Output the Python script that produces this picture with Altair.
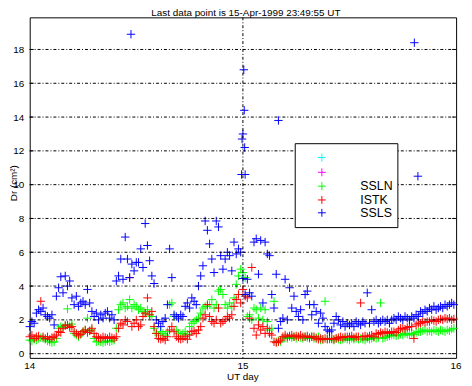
import altair as alt
import pandas as pd

# sampling: one value every 15 minutes from 14 April 00:00 UT (hours)
step_hours = 0.25

ssln_green = [
    0.8, 0.75, 0.85, 0.8, 0.9, 0.95, 0.9, 0.85, 0.75, 0.7, 0.65, 0.7,
    0.9, 1.5, 1.6, 1.55, 1.7, 2.65, 1.65, 1.75, 1.2, 1.1, 1.0, 1.15,
    1.3, 1.4, 2.1, 1.35, 1.4, 0.9, 0.7, 0.75, 0.7, 0.65, 0.7, 0.75,
    0.7, 0.75, 0.8, 1.5, 2.6, 2.9, 3.0, 2.7, 2.8, 3.2, 2.7, 2.9,
    2.8, 2.6, 2.7, 2.5, 2.4, 2.6, 2.3, 2.2, 1.5, 1.2, 1.1, 1.3,
    1.2, 1.1, 1.3, 2.9, 3.0, 2.2, 1.4, 1.2, 1.1, 1.2, 1.3, 1.15,
    1.6, 1.8, 1.9, 2.0, 2.1, 2.4, 2.7, 2.8, 2.8, 2.9, 3.2, 2.7,
    2.9, 3.7, 3.8, 3.5, 2.9, 2.7, 3.0, 2.8, 3.3, 4.1, 4.6, 5.0,
    4.8, 4.5, 2.2, 2.3, 2.0, 2.7, 2.6, 2.1, 2.7, 2.0, 2.6, 1.9,
    1.4, 1.5, 3.1, 0.7, 0.75, 0.7, 0.9, 0.95, 0.9, 1.0, 0.95, 1.0,
    0.9, 1.0, 0.95, 0.9, 1.0, 0.95, 0.9, 1.0, 0.9, 0.95, 1.0, 0.8,
    0.85, 3.1, 0.9, 0.85, 0.85, 0.8, 0.9, 0.85, 0.8, 0.85, 0.9, 0.85,
    0.8, 0.9, 0.85, 0.9, 0.85, 0.9, 0.85, 0.8, 0.9, 0.85, 0.9, 0.95,
    0.9, 0.95, 3.0, 0.9, 0.95, 1.0, 1.05, 1.1, 1.1, 1.05, 1.1, 1.15,
    1.1, 1.2, 1.15, 1.1, 1.2, 1.15, 1.25, 1.3, 1.3, 1.35, 1.4, 1.3,
    1.35, 1.3, 1.4, 1.35, 1.3, 1.4, 1.35, 1.3, 1.4, 1.35, 1.45, 1.5,
]

istk_red = [
    1.0, 1.1, 0.9, 1.0, 1.05, 3.1, 1.0, 0.9, 1.0, 0.85, 0.95, 1.0,
    1.1, 1.3, 1.25, 1.5, 1.65, 1.7, 1.55, 1.6, 1.3, 1.2, 1.1, 1.15,
    1.3, 1.4, 1.25, 1.35, 1.5, 1.2, 1.0, 0.95, 0.9, 1.0, 0.95, 0.9,
    1.0, 0.95, 0.9, 1.0, 1.5, 1.8, 1.7, 2.0, 1.9, 4.5, 1.6, 1.8,
    2.0, 1.6, 1.7, 2.2, 2.4, 3.3, 2.3, 2.5, 1.6, 1.2, 0.9, 0.85,
    0.9, 0.8, 1.0, 1.4, 1.6, 1.3, 1.0, 0.9, 0.85, 0.9, 1.0, 0.85,
    1.1, 1.3, 1.35, 1.2, 1.4, 1.6, 2.1, 2.3, 2.9, 2.2, 1.9, 1.8,
    2.0, 2.7, 1.8, 1.9, 2.0, 2.2, 2.1, 2.3, 2.8, 3.2, 3.5, 3.0,
    3.8, 3.4, 3.3, 2.1, 5.1, 1.5, 1.1, 1.7, 1.4, 1.6, 1.2, 1.5,
    1.2, 1.1, 0.7, 0.65, 0.7, 0.8, 1.0, 1.1, 1.0, 1.05, 1.1, 1.0,
    1.05, 1.0, 1.1, 1.0, 1.0, 1.05, 0.95, 1.0, 1.0, 0.9, 0.85, 0.9,
    0.85, 0.9, 0.85, 0.9, 0.9, 0.85, 0.9, 0.95, 1.0, 0.95, 1.0, 1.0,
    1.0, 1.05, 0.95, 1.0, 1.0, 3.0, 1.0, 1.05, 1.0, 1.05, 1.1, 1.0,
    1.2, 1.15, 1.25, 1.2, 1.3, 1.25, 1.2, 1.3, 1.3, 1.25, 1.4, 1.5,
    1.5, 1.45, 1.55, 1.6, 1.6, 0.9, 1.7, 1.8, 1.8, 1.9, 1.85, 1.9,
    1.9, 2.0, 1.95, 1.9, 2.0, 2.05, 2.0, 2.1, 2.05, 2.1, 2.0, 2.05,
]

ssls_blue = [
    1.6, 1.9, 1.8, 2.4, 2.6, 2.5, 2.7, 2.3, 2.2, 2.1, 2.3, 1.7,
    3.4, 3.9, 4.55, 3.6, 4.6, 4.0, 4.3, 3.3, 2.9, 3.4, 2.8, 3.0,
    3.1, 2.9, 3.8, 3.0, 2.5, 2.2, 2.4, 2.0, 2.3, 2.1, 2.4, 2.5,
    2.1, 2.3, 2.0, 4.3, 4.6, 5.6, 4.4, 6.9, 5.6, 4.5, 5.3, 4.9,
    5.4, 5.4, 6.2, 5.1, 7.7, 6.4, 5.5, 4.6, 4.15, 2.0, 1.8, 1.6,
    1.9, 2.1, 2.9, 6.2, 4.5, 2.3, 2.2, 2.1, 2.3, 2.2, 2.8, 3.0,
    2.7, 3.3, 3.1, 2.9, 4.0, 4.6, 5.2, 7.85, 7.3, 6.5, 5.6, 4.8,
    7.85, 7.5, 5.8, 5.0, 5.6, 6.0, 5.8, 4.9, 6.6, 5.9, 6.2, 6.0,
    4.45, 3.5, 4.4, 3.6, 3.4, 6.6, 6.8, 4.7, 6.7, 3.0, 6.6, 5.9,
    5.8, 3.5, 2.7, 4.7, 1.5, 1.9, 2.1, 4.4, 2.0, 3.9, 2.7, 3.4,
    2.5, 2.2, 2.6, 2.0, 3.5, 3.7, 2.9, 2.3, 2.9, 2.5, 1.8, 2.4,
    2.1, 1.6, 1.4, 1.3, 1.4, 1.8, 2.2, 2.0, 1.7, 1.9, 1.6, 1.8,
    1.7, 1.8, 1.6, 1.9, 1.8, 1.7, 1.9, 1.8, 3.6, 1.8, 2.6, 1.9,
    2.0, 1.8, 1.9, 2.0, 1.9, 2.0, 1.8, 2.0, 2.1, 2.0, 2.2, 2.1,
    2.0, 2.2, 2.1, 2.0, 2.2, 2.1, 2.3, 2.2, 2.5, 2.4, 2.6, 2.5,
    2.7, 2.6, 2.8, 2.6, 2.7, 2.8, 2.7, 2.9, 2.8, 2.9, 3.0, 2.9,
]

# isolated SSLS spikes (hour after 14 April 00:00, value)
ssls_extra_hours = [11.4, 24.1, 24.15, 24.0, 23.9, 24.2, 23.85, 24.25, 28.0, 43.3, 43.7]
ssls_extra_values = [18.9, 16.8, 14.4, 13.0, 12.7, 12.2, 10.6, 10.6, 13.8, 18.4, 10.5]

series_names = ["SSLN", "ISTK", "SSLS"]
series_colors = ["#00ff00", "#ff0000", "#0000ff"]

y_tick_values = [0, 2, 4, 6, 8, 10, 12, 14, 16, 18]
x_tick_values = [14, 15, 16]
x_tick_labels = ["14", "15", "16"]

legend_colors = ["#00ffff", "#ff00ff", "#00ff00", "#ff0000", "#0000ff"]
legend_labels = ["", "", "SSLN", "ISTK", "SSLS"]

title_text = "Last data point is 15-Apr-1999 23:49:55 UT"
y_title = "Dr (cm\u00b2)"
x_title = "UT day"

rows = []
for name, vals in zip(series_names, [ssln_green, istk_red, ssls_blue]):
    for i, v in enumerate(vals):
        rows.append({"day": 14 + i * step_hours / 24.0, "dr": v, "series": name})
for h, v in zip(ssls_extra_hours, ssls_extra_values):
    rows.append({"day": 14 + h / 24.0, "dr": v, "series": "SSLS"})
df = pd.DataFrame(rows)

W, H = 432, 345
PLUS = "M-1,0L1,0M0,-1L0,1"
FONT = "Liberation Sans"
GRID_DASH = [3, 2, 1, 2]

xscale = alt.Scale(domain=[14, 16], nice=False, zero=False)
yscale = alt.Scale(domain=[-0.25, 19.9], nice=False, zero=False)

x_axis = alt.Axis(values=x_tick_values, title=None, ticks=False, domain=False,
                  labels=False, grid=False)
y_axis = alt.Axis(values=y_tick_values, title=None, ticks=False, domain=False,
                  labelFontSize=10, labelFont=FONT, labelColor="black", labelPadding=6,
                  labelOverlap=False, labelFlush=False, grid=False)

points = alt.Chart(df).mark_point(shape=PLUS, filled=False, strokeWidth=1, size=72, opacity=1).encode(
    x=alt.X("day:Q", scale=xscale, axis=x_axis),
    y=alt.Y("dr:Q", scale=yscale, axis=y_axis),
    color=alt.Color("series:N", scale=alt.Scale(domain=series_names, range=series_colors), legend=None),
)

tick_df = pd.DataFrame({"v": y_tick_values})
xlab_df = pd.DataFrame({"d": x_tick_values, "t": x_tick_labels})
xgrid_df = pd.DataFrame({"d": x_tick_values[1:-1]})

hgrid = alt.Chart(tick_df).mark_rule(color="black", strokeWidth=1, strokeDash=GRID_DASH).encode(
    y=alt.Y("v:Q", scale=yscale, axis=y_axis), x=alt.value(0), x2=alt.value(W))
vgrid = alt.Chart(xgrid_df).mark_rule(color="black", strokeWidth=1, strokeDash=GRID_DASH).encode(
    x=alt.X("d:Q", scale=xscale, axis=x_axis), y=alt.value(0), y2=alt.value(H))
left_ticks = alt.Chart(tick_df).mark_rule(color="black", strokeWidth=1).encode(
    y=alt.Y("v:Q", scale=yscale, axis=y_axis), x=alt.value(0), x2=alt.value(4))
right_ticks = alt.Chart(tick_df).mark_rule(color="black", strokeWidth=1).encode(
    y=alt.Y("v:Q", scale=yscale, axis=y_axis), x=alt.value(W - 4), x2=alt.value(W))
xlabels = alt.Chart(xlab_df).mark_text(align="center", baseline="middle", fontSize=10, font=FONT, color="black").encode(
    x=alt.X("d:Q", scale=xscale, axis=x_axis), y=alt.value(H + 8.5), text="t:N")

one = pd.DataFrame({"a": [0]})
legend_box = alt.Chart(one).mark_rect(fill="white", stroke="black", strokeWidth=1).encode(
    x=alt.value(269), x2=alt.value(373), y=alt.value(128), y2=alt.value(213))

leg_df = pd.DataFrame({
    "c": legend_colors,
    "label": legend_labels,
    "py": [142, 157, 171, 185, 198],
})
legend_marks = alt.Chart(leg_df).mark_point(shape=PLUS, filled=False, strokeWidth=1, size=64, opacity=1).encode(
    x=alt.value(296), y=alt.Y("py:Q", scale=None), color=alt.Color("c:N", scale=None))
legend_text = alt.Chart(leg_df).mark_text(align="left", baseline="middle", fontSize=12.5, font=FONT, color="black").encode(
    x=alt.value(335), y=alt.Y("py:Q", scale=None), text="label:N")

title_mark = alt.Chart(one).mark_text(align="center", baseline="alphabetic", fontSize=10, font=FONT, color="black").encode(
    x=alt.value(219), y=alt.value(-1.5), text=alt.value(title_text))
ytitle_mark = alt.Chart(one).mark_text(align="center", baseline="middle", fontSize=10, font=FONT, color="black", angle=270).encode(
    x=alt.value(-16), y=alt.value(168), text=alt.value(y_title))
xtitle_mark = alt.Chart(one).mark_text(align="center", baseline="alphabetic", fontSize=10, font=FONT, color="black").encode(
    x=alt.value(216), y=alt.value(H + 22), text=alt.value(x_title))

chart = alt.layer(
    points, hgrid, vgrid, left_ticks, right_ticks, xlabels, legend_box, legend_marks, legend_text,
    title_mark, ytitle_mark, xtitle_mark,
).properties(
    width=W, height=H,
    autosize=alt.AutoSizeParams(type="none"),
    padding={"left": 22, "top": 7, "right": 8, "bottom": 26},
    background="white",
).configure_view(stroke="black", strokeWidth=1)

chart.save("out.html", embed_options={"renderer": "svg", "actions": False})
